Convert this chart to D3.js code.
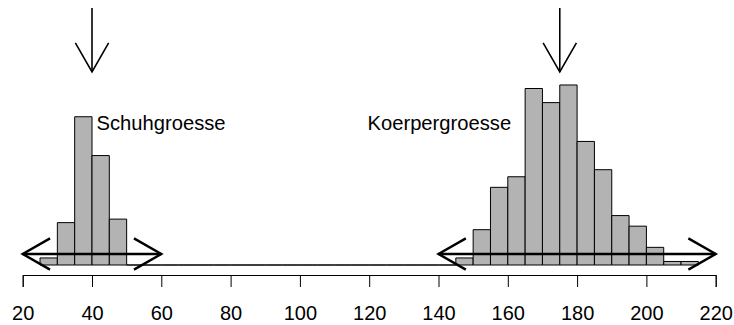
<!DOCTYPE html>
<html>
<head>
<meta charset="utf-8">
<script src="https://cdn.jsdelivr.net/npm/d3@7"></script>
<style>
  html, body { margin: 0; padding: 0; background: #fff; }
  svg { display: block; }
  text { font-family: "Liberation Sans", Arial, Helvetica, sans-serif; fill: #000; }
</style>
</head>
<body>
<svg id="chart" width="734" height="325"></svg>
<script>
// Histogram bins (lower edges, width 5) and their counts
const binStarts = [25, 30, 35, 40, 45, 50, 55, 60, 65, 70, 75, 80, 85, 90, 95, 100, 105, 110, 115,
                   120, 125, 130, 135, 140, 145, 150, 155, 160, 165, 170, 175, 180, 185, 190, 195,
                   200, 205, 210];
const counts    = [2, 12, 42, 31, 13, 0, 0, 0, 0, 0, 0, 0, 0, 0, 0, 0, 0, 0, 0,
                   0, 0, 0, 0, 0, 2, 10, 22, 25, 50, 46, 51, 35, 27, 14, 11,
                   5, 1, 1];
const binWidth = 5;

// Axis ticks
const tickValues = [20, 40, 60, 80, 100, 120, 140, 160, 180, 200, 220];

// Annotated groups: mean (down arrow), range (double arrow), label
const groupNames  = ["Schuhgroesse", "Koerpergroesse"];
const groupMeans  = [40, 175];
const rangeFrom   = [20, 140];
const rangeTo     = [60, 220];
const labelAnchor = [40, 165];

const svg = d3.select("#chart");

const x = d3.scaleLinear().domain([20, 220]).range([22.7, 715.7]);
const y = d3.scaleLinear().domain([0, 60]).range([265, 265 - 60 * 3.53]);

// Bars (zero-count bins collapse to a line along the baseline)
const bars = binStarts.map((b, i) => ({ x0: b, x1: b + binWidth, n: counts[i] }));
svg.append("g")
  .selectAll("path")
  .data(bars)
  .join("path")
  .attr("d", d => {
    const p = d3.path();
    const x0 = x(d.x0), x1 = x(d.x1), y0 = y(0), y1 = y(d.n);
    p.moveTo(x0, y0); p.lineTo(x0, y1); p.lineTo(x1, y1); p.lineTo(x1, y0); p.closePath();
    return p.toString();
  })
  .attr("fill", "#b3b3b3")
  .attr("stroke", "#000")
  .attr("stroke-width", 1);

// Bottom axis
const axis = d3.axisBottom(x).tickValues(tickValues).tickSize(12).tickPadding(19).tickFormat(d3.format("d"));
const gAxis = svg.append("g").attr("transform", "translate(0,275)").call(axis);
gAxis.select(".domain").attr("stroke", "#000").attr("stroke-width", 1);
gAxis.selectAll(".tick line").attr("stroke", "#000").attr("stroke-width", 1);
gAxis.selectAll(".tick text")
  .style("font-family", '"Liberation Sans", Arial, Helvetica, sans-serif')
  .style("font-size", "20px")
  .attr("fill", "#000");

// Arrow helper: line with open heads
function arrowHead(g, tx, ty, angle, len, spread, sw) {
  const a1 = angle + Math.PI - spread, a2 = angle + Math.PI + spread;
  const p = d3.path();
  p.moveTo(tx + len * Math.cos(a1), ty + len * Math.sin(a1));
  p.lineTo(tx, ty);
  p.lineTo(tx + len * Math.cos(a2), ty + len * Math.sin(a2));
  g.append("path").attr("d", p.toString()).attr("fill", "none")
    .attr("stroke", "#000").attr("stroke-width", sw).attr("stroke-linejoin", "miter");
}

const annot = svg.append("g");

// Down arrows at the group means
groupMeans.forEach(m => {
  const cx = x(m);
  annot.append("line").attr("x1", cx).attr("x2", cx).attr("y1", 8).attr("y2", 72)
    .attr("stroke", "#000").attr("stroke-width", 1.6);
  arrowHead(annot, cx, 72, Math.PI / 2, 33.5, 0.52, 1.6);
});

// Double arrows spanning each range
const rangeY = y(0) - 11;
rangeFrom.forEach((r0, i) => {
  const xa = x(r0), xb = x(rangeTo[i]);
  annot.append("line").attr("x1", xa).attr("x2", xb).attr("y1", rangeY).attr("y2", rangeY)
    .attr("stroke", "#000").attr("stroke-width", 2.4);
  arrowHead(annot, xa, rangeY, Math.PI, 31.5, 0.52, 2.4);
  arrowHead(annot, xb, rangeY, 0, 31.5, 0.52, 2.4);
});

// Group labels
annot.append("text").attr("x", x(labelAnchor[0]) + 4.5).attr("y", 130)
  .attr("text-anchor", "start").style("font-size", "20.2px").text(groupNames[0]);
annot.append("text").attr("x", x(labelAnchor[1]) - 14).attr("y", 130)
  .attr("text-anchor", "end").style("font-size", "20.2px").text(groupNames[1]);
</script>
</body>
</html>
